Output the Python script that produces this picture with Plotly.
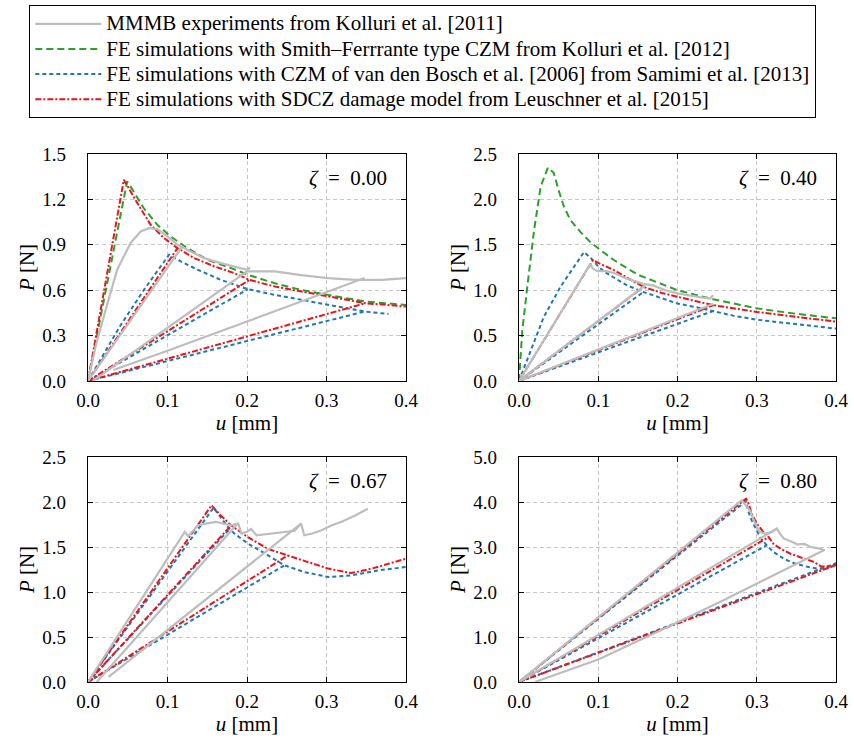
import plotly.graph_objects as go
from plotly.subplots import make_subplots

FONT = "Liberation Serif, Times New Roman, Times, serif"

# ---------------------------------------------------------------------------
# Load-displacement data (u in mm, P in N); None separates specimens
# ---------------------------------------------------------------------------

# zeta = 0.00
Z00_EXP_U = [0, 0.01, 0.021, 0.0367, 0.0535, 0.0662, 0.0767, 0.087, 0.0999, 0.1125, 0.129, 0.146, 0.167,
             0.184, 0.2, 0.204, None,
             0, 0.1146, 0.118, None,
             0.006, 0.2, 0.205, 0.235, 0.268, 0.302, 0.336, 0.37, 0.4, None,
             0.032, 0.1, 0.2, 0.28, 0.348]
Z00_EXP_P = [0, 0.24, 0.448, 0.735, 0.911, 0.988, 1.01, 1.004, 0.955, 0.90, 0.856, 0.812, 0.779,
             0.757, 0.735, 0.75, None,
             0, 0.867, 0.885, None,
             0, 0.724, 0.724, 0.724, 0.70, 0.68, 0.668, 0.668, 0.68, None,
             0.073, 0.20, 0.393, 0.55, 0.68]

Z00_SF_U = [0, 0.0493, 0.0535, 0.070, 0.0872, 0.104, 0.125, 0.1505, 0.18, 0.205, 0.235, 0.268, 0.302, 0.349, 0.4]
Z00_SF_P = [0, 1.319, 1.286, 1.143, 1.032, 0.955, 0.878, 0.80, 0.746, 0.695, 0.646, 0.602, 0.569, 0.525, 0.503]

Z00_VDB_U = [0, 0.04, 0.07, 0.102, 0.1167, 0.138, 0.1673, 0.201, 0.235, 0.268, 0.302, 0.348, 0.378, None,
             0, 0.201, None,
             0, 0.348]
Z00_VDB_P = [0, 0.36, 0.60, 0.834, 0.79, 0.735, 0.668, 0.607, 0.569, 0.536, 0.503, 0.459, 0.443, None,
             0, 0.607, None,
             0, 0.459]

Z00_SDCZ_U = [0, 0.0451, 0.062, 0.0788, 0.0957, 0.1125, 0.1336, 0.159, 0.184, 0.203, 0.235, 0.268, 0.302,
              0.349, 0.4, None,
              0, 0.1125, None,
              0, 0.203, None,
              0, 0.349]
Z00_SDCZ_P = [0, 1.330, 1.176, 1.032, 0.944, 0.878, 0.812, 0.757, 0.713, 0.668, 0.624, 0.591, 0.558,
              0.514, 0.492, None,
              0, 0.878, None,
              0, 0.668, None,
              0, 0.514]

# zeta = 0.40
Z40_EXP_U = [0, 0.09, 0.093, 0.099, 0.11, 0.12, 0.135, 0.15, 0.157, 0.17, 0.185, 0.2, 0.215, 0.23, 0.241,
             0.245, None,
             0, 0.1595, None,
             0, 0.2455]
Z40_EXP_P = [0, 1.29, 1.24, 1.21, 1.21, 1.19, 1.13, 1.09, 1.07, 1.05, 1.00, 0.965, 0.94, 0.92, 0.908,
             0.945, None,
             0, 1.055, None,
             0, 0.85]

Z40_SF_U = [0, 0.0042, 0.0105, 0.019, 0.0273, 0.0365, 0.044, 0.05, 0.0567, 0.065, 0.0777, 0.09, 0.103, 0.12,
            0.15, 0.178, 0.2, 0.245, 0.3, 0.35, 0.4]
Z40_SF_P = [0, 0.56, 1.04, 1.66, 2.14, 2.35, 2.29, 2.10, 1.92, 1.77, 1.64, 1.53, 1.44, 1.33,
            1.17, 1.07, 1.0, 0.9, 0.8, 0.74, 0.69]

Z40_VDB_U = [0, 0.031, 0.0525, 0.069, 0.082, 0.09, 0.1, 0.11, 0.125, 0.136, 0.157, 0.18, 0.2, 0.225, 0.2455,
             0.27, 0.3, 0.35, 0.4, None,
             0, 0.157, None,
             0, 0.2455]
Z40_VDB_P = [0, 0.70, 1.04, 1.26, 1.42, 1.36, 1.26, 1.19, 1.11, 1.055, 0.98, 0.91, 0.853, 0.81, 0.772,
             0.72, 0.675, 0.625, 0.577, None,
             0, 0.98, None,
             0, 0.772]

Z40_SDCZ_U = [0, 0.0932, 0.1, 0.12, 0.14, 0.157, 0.18, 0.2, 0.225, 0.2455, 0.27, 0.3, 0.35, 0.4, None,
              0, 0.157, None,
              0, 0.2455]
Z40_SDCZ_P = [0, 1.331, 1.30, 1.22, 1.12, 1.037, 0.97, 0.926, 0.875, 0.835, 0.80, 0.76, 0.705, 0.655, None,
              0, 1.037, None,
              0, 0.835]

# zeta = 0.67
Z67_EXP_U = [0, 0.1217, 0.126, 0.138, 0.148, 0.161, 0.17, 0.18, 0.189, 0.193, 0.2, 0.205, 0.212, 0.222,
             0.235, 0.251, 0.26, 0.268, 0.272, 0.282, 0.294, 0.306, 0.319, 0.336, 0.352, None,
             0.011, 0.1882, None,
             0.026, 0.268]
Z67_EXP_P = [0, 1.667, 1.62, 1.74, 1.76, 1.78, 1.76, 1.74, 1.76, 1.65, 1.67, 1.70, 1.63, 1.64,
             1.655, 1.667, 1.68, 1.76, 1.63, 1.65, 1.685, 1.74, 1.78, 1.85, 1.926, None,
             0, 1.76, None,
             0.056, 1.76]

Z67_VDB_U = [0, 0.158, 0.166, 0.176, 0.184, 0.201, 0.226, 0.247, 0.273, 0.302, 0.331, 0.365, 0.4, None,
             0, 0.178, None,
             0, 0.247]
Z67_VDB_P = [0, 1.937, 1.84, 1.72, 1.65, 1.54, 1.41, 1.296, 1.22, 1.167, 1.185, 1.24, 1.278, None,
             0, 1.70, None,
             0, 1.296]

Z67_SDCZ_U = [0, 0.1554, 0.166, 0.18, 0.201, 0.226, 0.251, 0.277, 0.302, 0.331, 0.357, 0.4, None,
              0, 0.18, None,
              0, 0.2513]
Z67_SDCZ_P = [0, 1.963, 1.86, 1.74, 1.61, 1.48, 1.407, 1.333, 1.26, 1.21, 1.26, 1.37, None,
              0, 1.74, None,
              0, 1.407]

# zeta = 0.80
Z80_EXP_U = [0, 0.281, 0.2915, 0.298, 0.304, 0.311, 0.319, 0.3255, 0.329, 0.334, 0.345, 0.351, 0.36,
             0.368, 0.381, 0.385, None,
             0, 0.3255, None,
             0.02, 0.1, 0.173, 0.2574, 0.386]
Z80_EXP_P = [0, 4.04, 3.81, 3.52, 3.33, 3.30, 3.33, 3.41, 3.30, 3.19, 3.11, 3.06, 3.07,
             3.0, 2.96, 2.93, None,
             0, 3.41, None,
             0, 0.5, 1.1, 1.81, 2.94]

Z80_VDB_U = [0, 0.2864, 0.289, 0.2936, 0.3, 0.304, 0.311, 0.321, 0.334, 0.347, 0.364, 0.377, 0.389, 0.4, None,
             0, 0.3128, None,
             0, 0.4]
Z80_VDB_P = [0, 4.02, 3.81, 3.59, 3.37, 3.22, 3.07, 2.89, 2.74, 2.64, 2.56, 2.52, 2.54, 2.64, None,
             0, 3.04, None,
             0, 2.64]

Z80_SDCZ_U = [0, 0.2864, 0.289, 0.2936, 0.3, 0.3085, 0.315, 0.321, 0.33, 0.3426, 0.36, 0.372, 0.381, 0.394,
              0.4, None,
              0, 0.315, None,
              0, 0.4]
Z80_SDCZ_P = [0, 4.074, 4.0, 3.74, 3.52, 3.33, 3.22, 3.07, 2.96, 2.85, 2.74, 2.67, 2.57, 2.56,
              2.6, None,
              0, 3.22, None,
              0, 2.6]

PANEL_LABELS = ["0.00", "0.40", "0.67", "0.80"]
Y_RANGES = [1.5, 2.5, 2.5, 5.0]
Y_DTICKS = [0.3, 0.5, 0.5, 1.0]
X_TICKS = [0.0, 0.1, 0.2, 0.3, 0.4]

LEGEND_NAMES = [
    "MMMB experiments from Kolluri et al. [2011]",
    "FE simulations with Smith\u2013Ferrrante type CZM from Kolluri et al. [2012]",
    "FE simulations with CZM of van den Bosch et al. [2006] from Samimi et al. [2013]",
    "FE simulations with SDCZ damage model from Leuschner et al. [2015]",
]

STYLES = {
    "exp": dict(color="#bdbdbd", width=2.2, dash="solid"),
    "sf": dict(color="#2ca02c", width=2.0, dash="7px,4px"),
    "vdb": dict(color="#1f77b4", width=2.0, dash="4px,3px"),
    "sdcz": dict(color="#e8151b", width=2.0, dash="6px,2px,2px,2px"),
}

panels = [
    dict(exp=(Z00_EXP_U, Z00_EXP_P), sf=(Z00_SF_U, Z00_SF_P), vdb=(Z00_VDB_U, Z00_VDB_P), sdcz=(Z00_SDCZ_U, Z00_SDCZ_P)),
    dict(exp=(Z40_EXP_U, Z40_EXP_P), sf=(Z40_SF_U, Z40_SF_P), vdb=(Z40_VDB_U, Z40_VDB_P), sdcz=(Z40_SDCZ_U, Z40_SDCZ_P)),
    dict(exp=(Z67_EXP_U, Z67_EXP_P), vdb=(Z67_VDB_U, Z67_VDB_P), sdcz=(Z67_SDCZ_U, Z67_SDCZ_P)),
    dict(exp=(Z80_EXP_U, Z80_EXP_P), vdb=(Z80_VDB_U, Z80_VDB_P), sdcz=(Z80_SDCZ_U, Z80_SDCZ_P)),
]

fig = make_subplots(rows=2, cols=2)

# drawing order: models first, experiments on top; legend order set by rank
draw_order = ["sf", "vdb", "sdcz", "exp"]
legend_rank = {"exp": 1, "sf": 2, "vdb": 3, "sdcz": 4}
legend_name = {"exp": LEGEND_NAMES[0], "sf": LEGEND_NAMES[1], "vdb": LEGEND_NAMES[2], "sdcz": LEGEND_NAMES[3]}
shown = set()

for i, data in enumerate(panels):
    r, c = i // 2 + 1, i % 2 + 1
    for key in draw_order:
        if key not in data:
            continue
        u, p = data[key]
        fig.add_trace(
            go.Scatter(
                x=u, y=p, mode="lines", line=STYLES[key], connectgaps=False,
                # legend text is set larger than the legend base font, which keeps rows tight
                name=f'<span style="font-size:21px">{legend_name[key]}</span>',
                legendrank=legend_rank[key],
                showlegend=key not in shown, legendgroup=key, hoverinfo="skip",
            ),
            row=r, col=c,
        )
        shown.add(key)

W, H = 854, 739
x_domains = [[88 / W, 406 / W], [519 / W, 836 / W]]
y_domains = [[1 - 381 / H, 1 - 154 / H], [1 - 682 / H, 1 - 457 / H]]

axis_common = dict(
    showline=True, linecolor="black", linewidth=1.3, mirror="ticks",
    ticks="inside", ticklen=5, tickwidth=1.3, tickcolor="black",
    showgrid=True, gridcolor="#c8c8c8", griddash="4px,3px", gridwidth=1,
    zeroline=False, tickfont=dict(family=FONT, size=19, color="black"),
    automargin=False,
)

for i in range(4):
    r, c = i // 2, i % 2
    xa = "xaxis" if i == 0 else f"xaxis{i + 1}"
    ya = "yaxis" if i == 0 else f"yaxis{i + 1}"
    fig.layout[xa].update(
        domain=x_domains[c], range=[0, 0.4], tickvals=X_TICKS, tickformat=".1f",
        title=dict(text="<i>u</i> [mm]", font=dict(family=FONT, size=21, color="black"), standoff=2),
        ticklabelstandoff=2, **axis_common,
    )
    fig.layout[ya].update(
        domain=y_domains[r], range=[0, Y_RANGES[i]], dtick=Y_DTICKS[i], tick0=0, tickformat=".1f",
        title=dict(text="<i>P</i> [N]", font=dict(family=FONT, size=21, color="black"), standoff=1),
        ticklabelstandoff=17, **axis_common,
    )
    xref = "x domain" if i == 0 else f"x{i + 1} domain"
    yref = "y domain" if i == 0 else f"y{i + 1} domain"
    fig.add_annotation(
        text=f"<i>\u03b6</i>\u2002=\u2002{PANEL_LABELS[i]}", xref=xref, yref=yref, x=0.945, y=0.895,
        xanchor="right", yanchor="middle", showarrow=False,
        font=dict(family=FONT, size=21, color="black"),
    )

fig.update_layout(
    width=W, height=H, margin=dict(l=0, r=0, t=0, b=0),
    paper_bgcolor="white", plot_bgcolor="white",
    font=dict(family=FONT, color="black"),
    legend=dict(
        x=29 / W, y=1 - 5 / H, xanchor="left", yanchor="top",
        bordercolor="black", borderwidth=1.3, bgcolor="white",
        font=dict(family=FONT, size=17, color="black"),
        itemwidth=66, tracegroupgap=0, traceorder="normal",
    ),
    showlegend=True,
)

fig.write_html("out.html")
